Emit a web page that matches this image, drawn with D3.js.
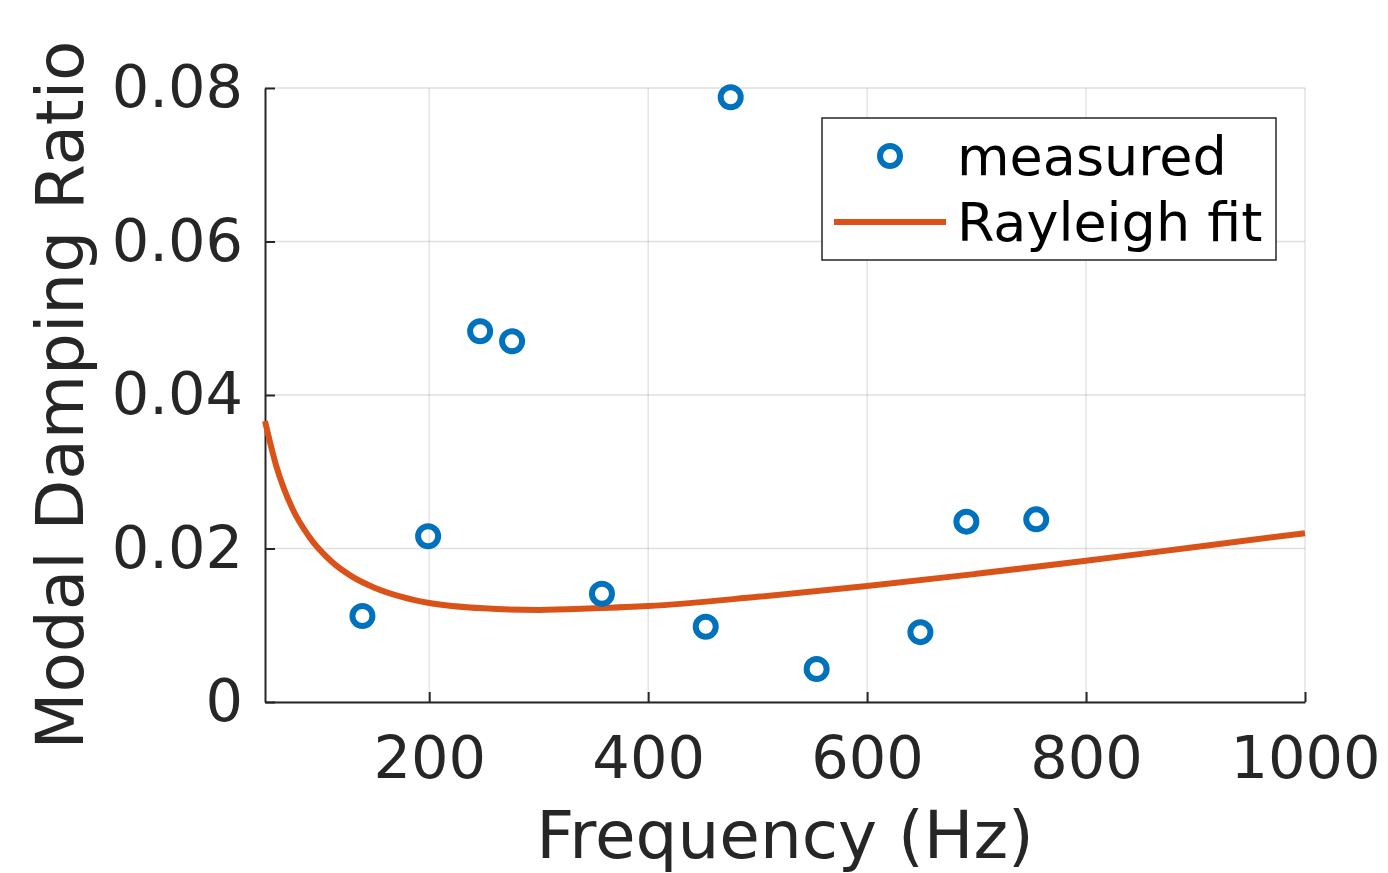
<!DOCTYPE html>
<html lang="en">
<head>
<meta charset="UTF-8">
<title>Modal Damping Ratio vs Frequency</title>
<script src="https://d3js.org/d3.v7.min.js"></script>
<style>
  body { margin: 0; background: #fff; overflow: hidden; }
  svg text { font-family: "DejaVu Sans", sans-serif; }
  .grid line { stroke: #262626; stroke-opacity: 0.15; stroke-width: 1.3px; }
  .axis text { fill: #262626; font-size: 59px; }
  .axis path, .axis line { stroke: #262626; stroke-width: 2px; }
</style>
</head>
<body>
<svg width="1388" height="873"></svg>
<script>
// measured modal damping
const freqMeasured = [139, 199, 246.5, 275.7, 357.8, 452.6, 475.4, 553.9, 648.7, 690.7, 754.5];
const dampMeasured = [0.0112, 0.0216, 0.0483, 0.0470, 0.0141, 0.0098, 0.0788, 0.0043, 0.0091, 0.0235, 0.0238];

// Rayleigh fit curve
const freqFit = [50, 60, 75, 90, 110, 130, 150, 175, 200, 250, 300, 350, 400, 500, 600, 700, 800, 900, 1000];
const dampFit = [0.0366, 0.0309, 0.0252, 0.0216, 0.0184, 0.0163, 0.0149, 0.0137, 0.0129, 0.0122, 0.0120, 0.0122, 0.0125, 0.0137, 0.0151, 0.0167, 0.0184, 0.0202, 0.0220];

const xTicks = [200, 400, 600, 800, 1000];
const yTicks = [0, 0.02, 0.04, 0.06, 0.08];

const margin = { left: 265, right: 83, top: 88, bottom: 171 };
const W = 1388, H = 873;

const svg = d3.select("svg");

const x = d3.scaleLinear().domain([50, 1000]).range([margin.left, W - margin.right]);
const y = d3.scaleLinear().domain([0, 0.08]).range([H - margin.bottom, margin.top]);

// grid
const grid = svg.append("g").attr("class", "grid");
grid.selectAll(".gx").data(xTicks).enter().append("line")
    .attr("x1", d => x(d)).attr("x2", d => x(d))
    .attr("y1", y(0)).attr("y2", y(0.08));
grid.selectAll(".gy").data(yTicks).enter().append("line")
    .attr("x1", x(50)).attr("x2", x(1000))
    .attr("y1", d => y(d)).attr("y2", d => y(d));

// axes (ticks pointing inward, like MATLAB)
const xAxis = svg.append("g").attr("class", "axis")
    .attr("transform", `translate(0,${y(0)})`)
    .call(d3.axisBottom(x).tickValues(xTicks).tickSizeInner(-10).tickSizeOuter(0).tickPadding(34).tickFormat(d3.format("d")));
xAxis.selectAll("text").attr("dy", "0.71em");

const yAxis = svg.append("g").attr("class", "axis")
    .attr("transform", `translate(${x(50)},0)`)
    .call(d3.axisLeft(y).tickValues(yTicks).tickSizeInner(-10).tickSizeOuter(0).tickPadding(22)
        .tickFormat(d => d === 0 ? "0" : d3.format(".2f")(d)));

// fit curve
const line = d3.line()
    .x((d, i) => x(freqFit[i]))
    .y(d => y(d))
    .curve(d3.curveMonotoneX);
svg.append("path")
    .datum(dampFit)
    .attr("d", line)
    .attr("fill", "none")
    .attr("stroke", "#D95319")
    .attr("stroke-width", 6);

// measured points
svg.append("g").selectAll("circle")
    .data(freqMeasured)
    .enter().append("circle")
    .attr("cx", d => x(d))
    .attr("cy", (d, i) => y(dampMeasured[i]))
    .attr("r", 10)
    .attr("fill", "none")
    .attr("stroke", "#0072BD")
    .attr("stroke-width", 6);

// axis labels
svg.append("text")
    .attr("x", (x(50) + x(1000)) / 2)
    .attr("y", 858)
    .attr("text-anchor", "middle")
    .attr("font-size", 66)
    .attr("fill", "#262626")
    .text("Frequency (Hz)");

svg.append("text")
    .attr("transform", `translate(83,${(y(0) + y(0.08)) / 2}) rotate(-90)`)
    .attr("text-anchor", "middle")
    .attr("font-size", 66)
    .attr("fill", "#262626")
    .text("Modal Damping Ratio");

// legend
const legend = svg.append("g").attr("transform", "translate(822,118)");
legend.append("rect")
    .attr("width", 454).attr("height", 142)
    .attr("fill", "#fff").attr("stroke", "#262626").attr("stroke-width", 1.5);
legend.append("circle")
    .attr("cx", 68).attr("cy", 38).attr("r", 10)
    .attr("fill", "none").attr("stroke", "#0072BD").attr("stroke-width", 6);
legend.append("line")
    .attr("x1", 12).attr("x2", 124).attr("y1", 104).attr("y2", 104)
    .attr("stroke", "#D95319").attr("stroke-width", 6);
legend.append("text").attr("x", 135).attr("y", 57).attr("font-size", 54).attr("fill", "#000").text("measured");
legend.append("text").attr("x", 135).attr("y", 123).attr("font-size", 54).attr("fill", "#000").text("Rayleigh fit");
</script>
</body>
</html>
